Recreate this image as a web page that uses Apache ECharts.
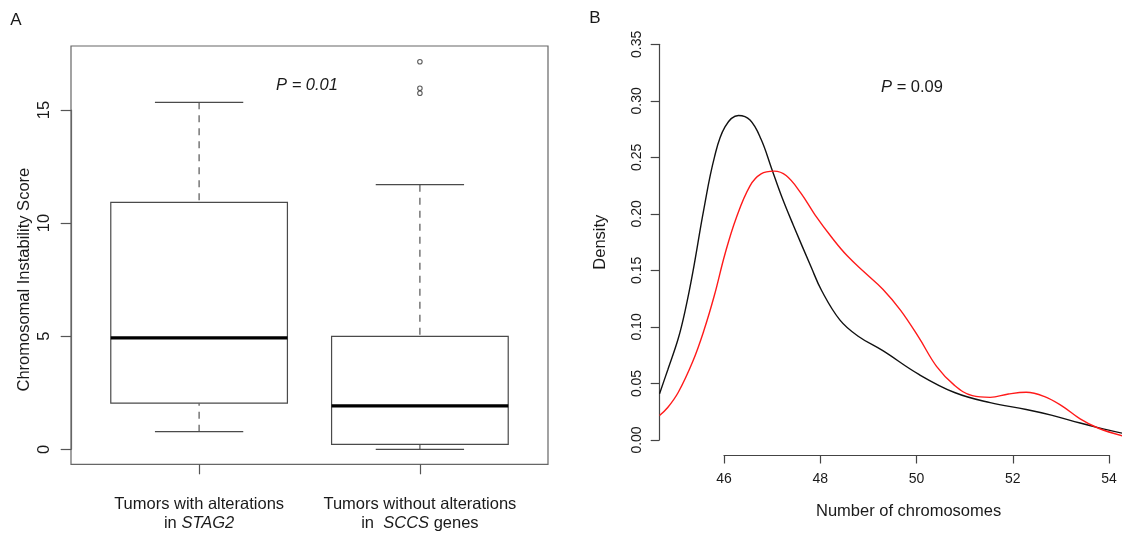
<!DOCTYPE html>
<html>
<head>
<meta charset="utf-8">
<script src="https://cdn.jsdelivr.net/npm/echarts@6/dist/echarts.min.js"></script>
<style>
html,body{margin:0;padding:0;background:#fff;}
#chart{width:1122px;height:535px;}
</style>
</head>
<body>
<div id="chart"></div>
<script>
// ---------- Panel A data (box plot) ----------
const boxCategories = ['Tumors with alterations in STAG2', 'Tumors without alterations in SCCS genes'];
// [lower whisker, Q1, median, Q3, upper whisker]
const stag2Box = [0.78, 2.04, 4.93, 10.92, 15.34];
const sccsBox = [0.0, 0.22, 1.92, 4.99, 11.70];
const sccsOutliers = [17.13, 15.96, 15.74];
const leftYTicks = [0, 5, 10, 15];

// ---------- Panel B data (density curves) ----------
const blackX = [44.66, 44.83, 45.05, 45.20, 45.35, 45.58, 45.80, 46.02, 46.30, 46.54, 46.77, 46.99, 47.21, 47.44, 47.81, 48.03, 48.41, 48.78, 49.30, 50.05, 50.79, 51.53, 52.28, 52.80, 53.40, 53.77, 54.28];
const blackY = [0.041, 0.062, 0.090, 0.116, 0.148, 0.204, 0.250, 0.277, 0.287, 0.283, 0.266, 0.240, 0.214, 0.190, 0.153, 0.132, 0.106, 0.092, 0.079, 0.058, 0.042, 0.033, 0.027, 0.022, 0.015, 0.011, 0.006];
const redX = [44.66, 44.83, 45.05, 45.35, 45.58, 45.80, 46.02, 46.25, 46.54, 46.77, 47.04, 47.29, 47.59, 47.89, 48.26, 48.56, 48.93, 49.30, 49.67, 50.05, 50.42, 50.79, 51.16, 51.53, 51.91, 52.28, 52.65, 53.02, 53.40, 53.77, 54.28];
const redY = [0.0217, 0.0287, 0.0422, 0.0694, 0.0966, 0.128, 0.1645, 0.196, 0.2248, 0.2354, 0.2378, 0.2339, 0.2188, 0.1992, 0.178, 0.1629, 0.1479, 0.1334, 0.1147, 0.0905, 0.0649, 0.0483, 0.0392, 0.0377, 0.0407, 0.0422, 0.0386, 0.0302, 0.0187, 0.0106, 0.0036];
const rightXTicks = [46, 48, 50, 52, 54];

const FONT = '"Liberation Sans", Arial, sans-serif';
const TXT = '#1a1a1a';

const chart = echarts.init(document.getElementById('chart'), null, {renderer: 'canvas'});

function renderBox(params, api) {
  const c = api.value(0);
  const lw = api.value(1), q1 = api.value(2), med = api.value(3), q3 = api.value(4), uw = api.value(5);
  const bw = api.size([1, 0])[0];
  const half = bw * 0.4, cap = bw * 0.2;
  const x = api.coord([c, med])[0];
  const y = v => api.coord([c, v])[1];
  const gray = '#4a4a4a';
  const dash = {stroke: '#555', lineWidth: 1.2, lineDash: [7, 6]};
  const solid = {stroke: gray, lineWidth: 1.2};
  return {
    type: 'group',
    children: [
      {type: 'line', shape: {x1: x, y1: y(uw), x2: x, y2: y(q3)}, style: dash},
      {type: 'line', shape: {x1: x, y1: y(lw), x2: x, y2: y(q1)}, style: dash},
      {type: 'line', shape: {x1: x - cap, y1: y(uw), x2: x + cap, y2: y(uw)}, style: solid},
      {type: 'line', shape: {x1: x - cap, y1: y(lw), x2: x + cap, y2: y(lw)}, style: solid},
      {type: 'rect', shape: {x: x - half, y: y(q3), width: 2 * half, height: y(q1) - y(q3)}, style: {fill: '#fff', stroke: gray, lineWidth: 1.2}},
      {type: 'line', shape: {x1: x - half, y1: y(med), x2: x + half, y2: y(med)}, style: {stroke: '#000', lineWidth: 3.2}}
    ]
  };
}

const option = {
  animation: false,
  backgroundColor: '#fff',
  textStyle: {fontFamily: FONT},
  grid: [
    // 0: frame of panel A
    {left: 71, right: 574, top: 46, bottom: 70.7, show: true, borderColor: '#666', borderWidth: 1.2, backgroundColor: 'transparent'},
    // 1: box plot coordinates (y 0..15)
    {left: 88.7, width: 441.6, top: 110, bottom: 85.7},
    // 2: density curves
    {left: 659.3, right: 0, top: 44.3, bottom: 95},
    // 3: visible x axis for panel B
    {left: 724, right: 13, top: 44.3, bottom: 80},
    // 4: category x axis for panel A (same horizontal extent as grid 1, bottom at the frame)
    {left: 88.7, width: 441.6, top: 110, bottom: 70.7}
  ],
  xAxis: [
    {gridIndex: 0, type: 'value', show: false, min: 0, max: 1},
    {gridIndex: 1, type: 'category', data: boxCategories, show: false},
    {gridIndex: 2, type: 'value', show: false, min: 44.655, max: 54.27},
    {
      gridIndex: 3, type: 'value', min: 46, max: 54, interval: 2,
      axisLine: {show: true, lineStyle: {color: '#444', width: 1.2}},
      axisTick: {show: true, length: 8.5, lineStyle: {color: '#444', width: 1.2}},
      axisLabel: {margin: 17, color: TXT, fontSize: 14, fontFamily: FONT,
        formatter: v => rightXTicks.indexOf(v) >= 0 ? String(v) : ''},
      splitLine: {show: false}
    },
    {
      gridIndex: 4, type: 'category', data: boxCategories, position: 'bottom',
      axisLine: {show: false},
      axisTick: {show: true, alignWithLabel: true, interval: 0, length: 10, lineStyle: {color: '#555', width: 1.2}},
      axisLabel: {
        interval: 0, hideOverlap: false,
        margin: 31, lineHeight: 19, color: TXT, fontSize: 16.5, fontFamily: FONT,
        formatter: function (v, i) {
          if (i === 0) return '{n|Tumors with alterations}\n{n|in }{i|STAG2}';
          return '{n|Tumors without alterations}\n{n|in  }{i|SCCS}{n| genes}';
        },
        rich: {
          n: {fontSize: 16.5, fontFamily: FONT, color: TXT, lineHeight: 19},
          i: {fontSize: 16.5, fontFamily: FONT, color: TXT, fontStyle: 'italic', lineHeight: 19}
        }
      },
      splitLine: {show: false}
    }
  ],
  yAxis: [
    {gridIndex: 0, type: 'value', show: false, min: 0, max: 1},
    {
      gridIndex: 1, type: 'value', min: 0, max: 15, interval: 5, offset: 17.7,
      name: 'Chromosomal Instability Score', nameLocation: 'middle', nameGap: 38.5,
      nameTextStyle: {fontSize: 16.5, fontFamily: FONT, color: TXT},
      axisLine: {show: true, lineStyle: {color: '#666', width: 1.2}},
      axisTick: {show: true, length: 10.3, lineStyle: {color: '#555', width: 1.2}},
      axisLabel: {rotate: 90, margin: 18, fontSize: 16.5, fontFamily: FONT, color: TXT,
        formatter: v => leftYTicks.indexOf(v) >= 0 ? String(v) : ''},
      splitLine: {show: false}
    },
    {
      gridIndex: 2, type: 'value', min: 0, max: 0.35, interval: 0.05,
      name: 'Density', nameLocation: 'middle', nameGap: 50,
      nameTextStyle: {fontSize: 16.5, fontFamily: FONT, color: TXT},
      axisLine: {show: true, lineStyle: {color: '#444', width: 1.2}},
      axisTick: {show: true, length: 8.6, lineStyle: {color: '#444', width: 1.2}},
      axisLabel: {rotate: 90, margin: 15.5, fontSize: 14, fontFamily: FONT, color: TXT,
        formatter: v => v.toFixed(2)},
      splitLine: {show: false}
    },
    {gridIndex: 3, type: 'value', show: false, min: 0, max: 1},
    {gridIndex: 4, type: 'value', show: false, min: 0, max: 1}
  ],
  series: [
    {
      type: 'custom', xAxisIndex: 1, yAxisIndex: 1, clip: false,
      renderItem: renderBox,
      encode: {x: 0, y: [1, 2, 3, 4, 5]},
      data: [[0].concat(stag2Box), [1].concat(sccsBox)],
      z: 3
    },
    {
      type: 'scatter', xAxisIndex: 1, yAxisIndex: 1, clip: false,
      symbol: 'circle', symbolSize: 4.5,
      itemStyle: {color: '#fff', borderColor: '#333', borderWidth: 1.1},
      data: sccsOutliers.map(v => [1, v]),
      z: 4
    },
    {
      type: 'line', xAxisIndex: 2, yAxisIndex: 2, smooth: 0.4, symbol: 'none',
      lineStyle: {color: '#111', width: 1.4},
      data: blackX.map((x, i) => [x, blackY[i]]),
      z: 3
    },
    {
      type: 'line', xAxisIndex: 2, yAxisIndex: 2, smooth: 0.4, symbol: 'none',
      lineStyle: {color: '#ff1a1a', width: 1.4},
      data: redX.map((x, i) => [x, redY[i]]),
      z: 4
    }
  ],
  graphic: [
    {type: 'text', x: 16, y: 20, style: {text: 'A', fontSize: 17, fontFamily: FONT, fill: TXT, textAlign: 'center', textVerticalAlign: 'middle'}},
    {type: 'text', x: 595, y: 18, style: {text: 'B', fontSize: 17, fontFamily: FONT, fill: TXT, textAlign: 'center', textVerticalAlign: 'middle'}},
    {type: 'text', x: 307, y: 85, style: {text: 'P = 0.01', fontSize: 16.5, fontStyle: 'italic', fontFamily: FONT, fill: TXT, textAlign: 'center', textVerticalAlign: 'middle'}},
    {type: 'text', x: 912, y: 87, style: {
      text: '{i|P} {n|= 0.09}', textAlign: 'center', textVerticalAlign: 'middle',
      rich: {i: {fontSize: 16.5, fontStyle: 'italic', fontFamily: FONT, fill: TXT}, n: {fontSize: 16.5, fontFamily: FONT, fill: TXT}},
      fontSize: 16.5, fontFamily: FONT, fill: TXT}},
    {type: 'text', x: 908.6, y: 511, style: {text: 'Number of chromosomes', fontSize: 16.5, fontFamily: FONT, fill: TXT, textAlign: 'center', textVerticalAlign: 'middle'}}
  ]
};

chart.setOption(option);
</script>
</body>
</html>
